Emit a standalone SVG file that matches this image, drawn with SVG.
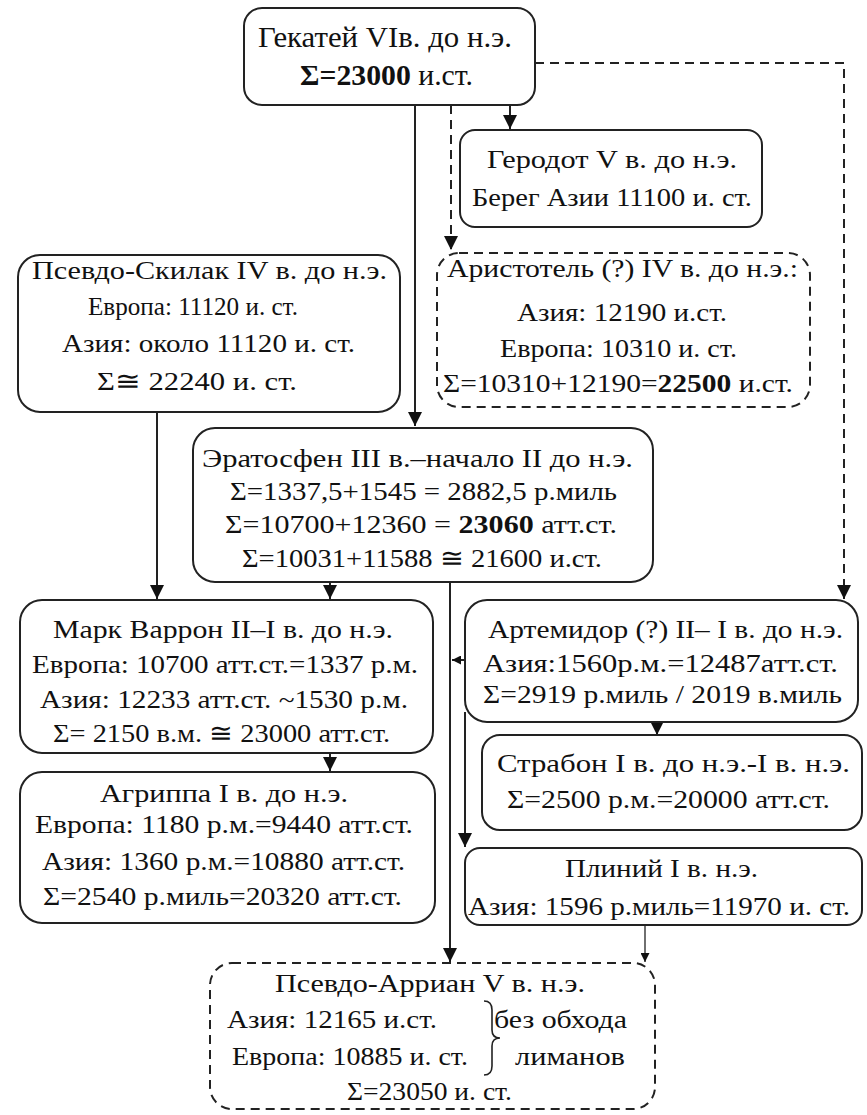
<svg xmlns="http://www.w3.org/2000/svg" width="867" height="1115" viewBox="0 0 867 1115">
<style>
.box{fill:#fff;stroke:#222;stroke-width:2}
.dbox{fill:#fff;stroke:#222;stroke-width:2;stroke-dasharray:9 6}
text{font-family:"Liberation Serif","DejaVu Serif",serif;font-size:26px;fill:#111}
.big{font-size:30px}
.b{font-weight:bold}
.c{fill:none;stroke:#222;stroke-width:2}
.cd{fill:none;stroke:#222;stroke-width:2;stroke-dasharray:9 6}
.ct{fill:none;stroke:#222;stroke-width:1.3}
.brace{fill:none;stroke:#222;stroke-width:1.6}
</style>
<defs>
<marker id="ah" viewBox="0 0 10 10" refX="10" refY="5" markerUnits="userSpaceOnUse" markerWidth="15" markerHeight="14" orient="auto"><path d="M0,0 L10,5 L0,10 z" fill="#111"/></marker>
<marker id="as" viewBox="0 0 10 10" refX="10" refY="5" markerUnits="userSpaceOnUse" markerWidth="10" markerHeight="9" orient="auto"><path d="M0,0 L10,5 L0,10 z" fill="#111"/></marker>
</defs>
<g id="connectors">
<path class="c" d="M415,105 V426" marker-end="url(#ah)"/>
<path class="c" d="M510,105 V129" marker-end="url(#ah)"/>
<path class="cd" d="M451,105 V250" marker-end="url(#ah)"/>
<path class="cd" d="M535,63 H844 V599" marker-end="url(#ah)"/>
<path class="c" d="M157,412 V599" marker-end="url(#ah)"/>
<path class="c" d="M330,582 V599" marker-end="url(#ah)"/>
<path class="c" d="M450,582 V962" marker-end="url(#ah)"/>
<path class="c" d="M465,660 H452" marker-end="url(#as)"/>
<path class="c" d="M657,722 V735" marker-end="url(#ah)"/>
<path class="c" d="M465,712 V847" marker-end="url(#ah)"/>
<path class="c" d="M330,753 V771" marker-end="url(#ah)"/>
<path class="ct" d="M645,925 V962" marker-end="url(#as)"/>
</g>
<g id="hecataeus">
<rect class="box" x="244" y="8" width="291" height="97" rx="18"/>
<text class="big" x="258" y="47" textLength="254" lengthAdjust="spacingAndGlyphs">Гекатей  VIв. до н.э.</text>
<text class="big" x="300" y="85" textLength="173" lengthAdjust="spacingAndGlyphs"><tspan class="b">Σ=23000</tspan> и.ст.</text>
</g>
<g id="herodotus">
<rect class="box" x="460" y="130" width="302" height="97" rx="15"/>
<text x="487" y="168" textLength="250" lengthAdjust="spacingAndGlyphs">Геродот  V в. до н.э.</text>
<text x="472" y="206" textLength="280" lengthAdjust="spacingAndGlyphs">Берег Азии 11100 и. ст.</text>
</g>
<g id="pseudo-scylax">
<rect class="box" x="18" y="255" width="382" height="157" rx="22"/>
<text x="32" y="279" textLength="355" lengthAdjust="spacingAndGlyphs">Псевдо-Скилак  IV в. до н.э.</text>
<text x="88" y="315" textLength="210" lengthAdjust="spacingAndGlyphs">Европа: 11120 и. ст.</text>
<text x="62" y="352" textLength="293" lengthAdjust="spacingAndGlyphs">Азия: около 11120 и. ст.</text>
<text x="97" y="390" textLength="200" lengthAdjust="spacingAndGlyphs">Σ≅ 22240 и. ст.</text>
</g>
<g id="aristotle">
<rect class="dbox" x="437" y="253" width="373" height="154" rx="22"/>
<text x="447" y="277" textLength="351" lengthAdjust="spacingAndGlyphs">Аристотель (?)  IV в. до н.э.:</text>
<text x="517" y="321" textLength="210" lengthAdjust="spacingAndGlyphs">Азия: 12190 и.ст.</text>
<text x="500" y="357" textLength="237" lengthAdjust="spacingAndGlyphs">Европа: 10310 и. ст.</text>
<text x="443" y="392" textLength="350" lengthAdjust="spacingAndGlyphs">Σ=10310+12190=<tspan class="b">22500</tspan> и.ст.</text>
</g>
<g id="eratosthenes">
<rect class="box" x="193" y="428" width="460" height="154" rx="22"/>
<text x="202" y="467" textLength="431" lengthAdjust="spacingAndGlyphs">Эратосфен  III в.–начало II до н.э.</text>
<text x="230" y="500" textLength="387" lengthAdjust="spacingAndGlyphs">Σ=1337,5+1545 = 2882,5 р.миль</text>
<text x="225" y="533" textLength="392" lengthAdjust="spacingAndGlyphs">Σ=10700+12360 = <tspan class="b">23060</tspan> атт.ст.</text>
<text x="242" y="567" textLength="360" lengthAdjust="spacingAndGlyphs">Σ=10031+11588 ≅ 21600 и.ст.</text>
</g>
<g id="varron">
<rect class="box" x="20" y="600" width="413" height="153" rx="22"/>
<text x="53" y="638" textLength="340" lengthAdjust="spacingAndGlyphs">Марк Варрон II–I в. до н.э.</text>
<text x="32" y="673" textLength="386" lengthAdjust="spacingAndGlyphs">Европа: 10700 атт.ст.=1337 р.м.</text>
<text x="40" y="708" textLength="368" lengthAdjust="spacingAndGlyphs">Азия: 12233 атт.ст. ~1530 р.м.</text>
<text x="53" y="742" textLength="337" lengthAdjust="spacingAndGlyphs">Σ= 2150 в.м. ≅ 23000 атт.ст.</text>
</g>
<g id="artemidor">
<rect class="box" x="465" y="600" width="393" height="122" rx="22"/>
<text x="488" y="638" textLength="355" lengthAdjust="spacingAndGlyphs">Артемидор (?) II– I в. до н.э.</text>
<text x="483" y="672" textLength="355" lengthAdjust="spacingAndGlyphs">Азия:1560р.м.=12487атт.ст.</text>
<text x="483" y="703" textLength="359" lengthAdjust="spacingAndGlyphs">Σ=2919 р.миль / 2019 в.миль</text>
</g>
<g id="agrippa">
<rect class="box" x="20" y="772" width="415" height="151" rx="22"/>
<text x="100" y="802" textLength="248" lengthAdjust="spacingAndGlyphs">Агриппа  I в. до н.э.</text>
<text x="35" y="833" textLength="378" lengthAdjust="spacingAndGlyphs">Европа: 1180 р.м.=9440 атт.ст.</text>
<text x="42" y="870" textLength="363" lengthAdjust="spacingAndGlyphs">Азия: 1360 р.м.=10880 атт.ст.</text>
<text x="43" y="905" textLength="359" lengthAdjust="spacingAndGlyphs">Σ=2540 р.миль=20320 атт.ст.</text>
</g>
<g id="strabo">
<rect class="box" x="482" y="735" width="380" height="95" rx="18"/>
<text x="497" y="772" textLength="353" lengthAdjust="spacingAndGlyphs">Страбон  I в. до н.э.-I в. н.э.</text>
<text x="507" y="808" textLength="323" lengthAdjust="spacingAndGlyphs">Σ=2500 р.м.=20000 атт.ст.</text>
</g>
<g id="plinius">
<rect class="box" x="465" y="848" width="397" height="77" rx="15"/>
<text x="565" y="877" textLength="193" lengthAdjust="spacingAndGlyphs">Плиний I в. н.э.</text>
<text x="468" y="915" textLength="382" lengthAdjust="spacingAndGlyphs">Азия: 1596 р.миль=11970 и. ст.</text>
</g>
<g id="pseudo-arrian">
<rect class="dbox" x="210" y="963" width="445" height="146" rx="22"/>
<text x="275" y="992" textLength="310" lengthAdjust="spacingAndGlyphs">Псевдо-Арриан  V в. н.э.</text>
<text x="227" y="1028" textLength="210" lengthAdjust="spacingAndGlyphs">Азия: 12165 и.ст.</text>
<text x="232" y="1065" textLength="236" lengthAdjust="spacingAndGlyphs">Европа: 10885 и. ст.</text>
<path class="brace" d="M484,1001 Q492,1001 492,1010 V1030 Q492,1038 500,1038 Q492,1038 492,1046 V1066 Q492,1075 484,1075"/>
<text x="494" y="1028" textLength="133" lengthAdjust="spacingAndGlyphs">без обхода</text>
<text x="515" y="1065" textLength="110" lengthAdjust="spacingAndGlyphs">лиманов</text>
<text x="347" y="1100" textLength="165" lengthAdjust="spacingAndGlyphs">Σ=23050 и. ст.</text>
</g>
</svg>
